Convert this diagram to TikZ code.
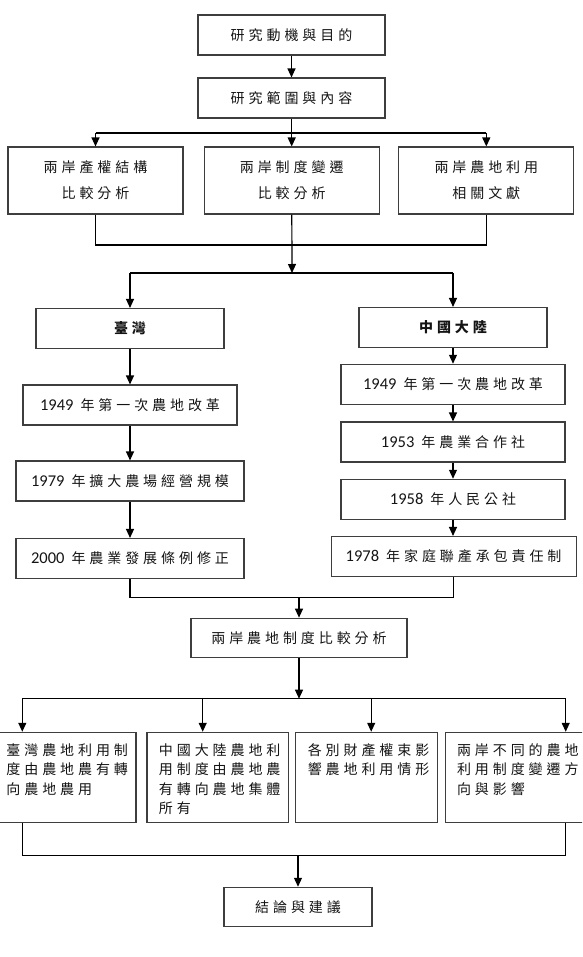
\documentclass[tikz,border=0pt]{standalone}
\usepackage{fontspec}
\setmainfont{Noto Sans CJK TC}[LetterSpace=28]
\newfontfamily\digitfont{Carlito}
\usetikzlibrary{arrows.meta,positioning}
\definecolor{FrameGray}{RGB}{62,62,62}
\definecolor{InkBlack}{RGB}{20,20,20}
% year numbers are set in the Latin face
\newcommand{\yr}[1]{{\digitfont\fontsize{16.5}{18}\selectfont #1} }

\begin{document}
\begin{tikzpicture}[x=1pt,y=-1pt,>={Triangle[width=8pt,length=9pt]},
    box/.style={draw=FrameGray,line width=1.1pt,inner sep=0pt,minimum height=40pt,
      text=InkBlack,font=\fontsize{14}{18}\selectfont},
    topic/.style={box,minimum width=175pt,minimum height=67pt,align=center,
      font=\fontsize{14}{26}\selectfont},
    region/.style={box,minimum width=188pt,font=\fontsize{14}{18}\selectfont\bfseries},
    result/.style={draw=FrameGray,line width=1.1pt,inner xsep=12pt,inner ysep=11pt,
      text=InkBlack,font=\fontsize{14}{19.5}\selectfont},
    link/.style={draw=black,line width=1.2pt}]
  \useasboundingbox (0,0) rectangle (582,957);
  \clip (0,0) rectangle (582,957);

  % research frame
  \node[box,minimum width=187pt] (motive) at (291.5,35) {研究動機與目的};
  \node[box,minimum width=187pt] (scope) at (291.5,98) {研究範圍與內容};
  \node[topic] (propA) at (95.5,180.5) {兩岸產權結構\\比較分析};
  \node[topic] (propB) at (291.7,180.5) {兩岸制度變遷\\比較分析};
  \node[topic] (propC) at (486.3,180.5) {兩岸農地利用\\相關文獻};

  % two sides
  \node[region] (tw) at (130,328.5) {臺灣};
  \node[region] (cn) at (453,327.5) {中國大陸};
  \node[box,minimum width=214pt] (tw1949) at (130,405) {\yr{1949}年第一次農地改革};
  \node[box,minimum width=228pt] (tw1979) at (130,481) {\yr{1979}年擴大農場經營規模};
  \node[box,minimum width=228pt] (tw2000) at (130,558.5) {\yr{2000}年農業發展條例修正};
  \node[box,minimum width=224pt] (cn1949) at (453,384.3) {\yr{1949}年第一次農地改革};
  \node[box,minimum width=224pt] (cn1953) at (453,442) {\yr{1953}年農業合作社};
  \node[box,minimum width=224pt] (cn1958) at (453,499.3) {\yr{1958}年人民公社};
  \node[box,minimum width=245pt] (cn1978) at (453.6,556.5) {\yr{1978}年家庭聯產承包責任制};

  % comparison and findings
  \node[box,minimum width=216pt,minimum height=39pt] (compare) at (299,637.7) {兩岸農地制度比較分析};
  \node[result] (res1) at (65.2,777.3) {\parbox[c][68pt][t]{117.5pt}{臺灣農地利用制\\度由農地農有轉\\向農地農用}};
  \node[result] (res2) at (217.7,777.3) {\parbox[c][68pt][t]{117.5pt}{中國大陸農地利\\用制度由農地農\\有轉向農地集體\\所有}};
  \node[result] (res3) at (366.5,777.3) {\parbox[c][68pt][t]{117.5pt}{各別財產權束影\\響農地利用情形}};
  \node[result] (res4) at (515.8,777.3) {\parbox[c][68pt][t]{117.5pt}{兩岸不同的農地\\利用制度變遷方\\向與影響}};
  \node[box,minimum width=148pt,minimum height=39pt] (conclude) at (298,906.8) {結論與建議};

  % branching points
  \coordinate (split1) at (291.5,133);
  \coordinate (join1) at (292,245);
  \coordinate (split2) at (292,273);
  \coordinate (join2) at (299,597.7);
  \coordinate (split3) at (299,698.7);
  \coordinate (drop1) at (22.3,698.7);
  \coordinate (drop2) at (202.7,698.7);
  \coordinate (drop3) at (371.2,698.7);
  \coordinate (drop4) at (565.7,698.7);
  \coordinate (join3) at (298,855.3);

  % connectors
  \draw[link,->] (motive) -- (scope);
  \draw[link] (scope) -- (split1);
  \draw[link] (split1 -| propA) -- (split1 -| propC);
  \foreach \n in {propA,propB,propC}
    \draw[link,->] (split1 -| \n) -- (\n);
  \draw[link] (propA) -- (propA |- join1) -- (propC |- join1) -- (propC);
  \draw[link,->] (propB) -- (split2);
  \draw[link] (split2 -| tw) -- (split2 -| cn);
  \draw[link,->] (split2 -| tw) -- (tw);
  \draw[link,->] (split2 -| cn) -- (cn);
  \foreach \a/\b in {tw/tw1949,tw1949/tw1979,tw1979/tw2000,
      cn/cn1949,cn1949/cn1953,cn1953/cn1958,cn1958/cn1978}
    \draw[link,->] (\a) -- (\a |- \b.north);
  \draw[link] (tw2000) -- (tw2000 |- join2) -- (cn1978 |- join2) -- (cn1978);
  \draw[link,->] (join2) -- (compare);
  \draw[link,->] (compare) -- (split3);
  \draw[link] (drop1) -- (drop4);
  \foreach \d/\r in {drop1/res1,drop2/res2,drop3/res3,drop4/res4}
    \draw[link,->] (\d) -- (\d |- \r.north);
  \draw[link] (res1.south -| drop1) -- (drop1 |- join3) -- (drop4 |- join3) -- (res4.south -| drop4);
  \draw[link,->] (join3) -- (conclude);
\end{tikzpicture}
\end{document}
